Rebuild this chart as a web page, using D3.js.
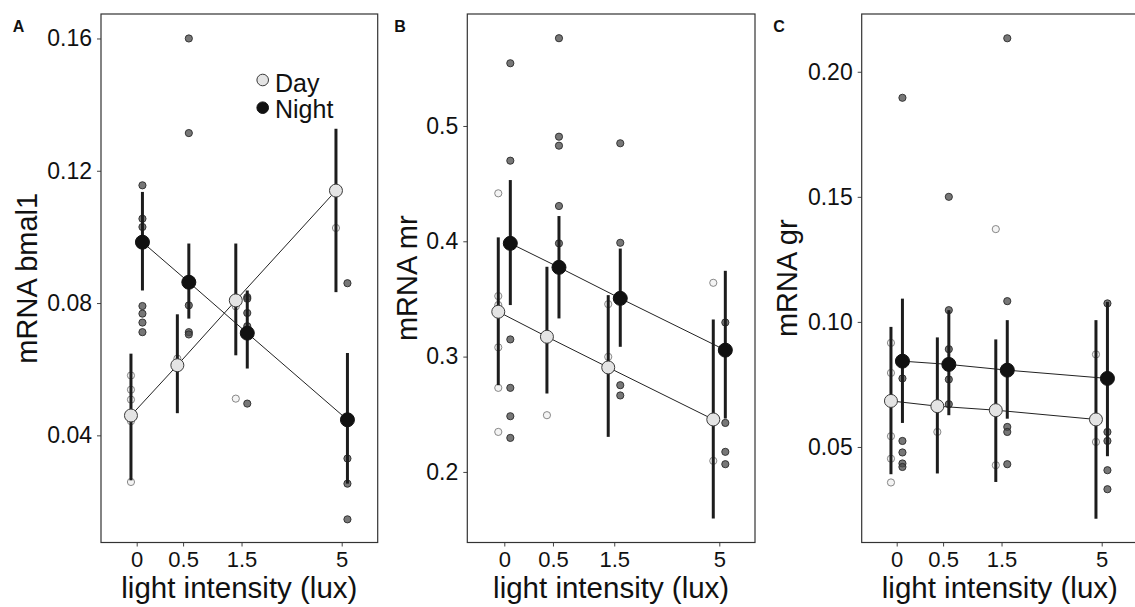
<!DOCTYPE html>
<html>
<head>
<meta charset="utf-8">
<script src="https://cdn.jsdelivr.net/npm/d3@7/dist/d3.min.js"></script>
<style>
  html, body { margin: 0; padding: 0; background: #fff; }
  svg { display: block; font-family: "Liberation Sans", Arial, sans-serif; }
</style>
</head>
<body>
<svg id="chart" width="1135" height="607"></svg>
<script>
// ---------- data ----------
const lux = [0, 0.5, 1.5, 5];
const xTickLabels = ["0", "0.5", "1.5", "5"];
const seriesNames = ["Day", "Night"];

// Panel A: bmal1
const bmal1YTicks = [0.04, 0.08, 0.12, 0.16];
const bmal1YTickLabels = ["0.04", "0.08", "0.12", "0.16"];
const bmal1DayMean = [0.046, 0.0612, 0.0808, 0.114];
const bmal1DayLow = [0.0264, 0.0467, 0.0642, 0.0833];
const bmal1DayHigh = [0.0647, 0.0766, 0.098, 0.1327];
const bmal1NightMean = [0.0984, 0.0863, 0.0709, 0.0447];
const bmal1NightLow = [0.0838, 0.0753, 0.0602, 0.0254];
const bmal1NightHigh = [0.1136, 0.098, 0.0838, 0.0649];
const bmal1DayRaw = [[0.0581, 0.0538, 0.0508, 0.0443, 0.0259], [0.0632], [0.0511, 0.079], [0.1027]];
const bmal1NightRaw = [[0.1156, 0.1055, 0.103, 0.0791, 0.0768, 0.0741, 0.0712],
                       [0.16, 0.1314, 0.0793, 0.0712, 0.0705],
                       [0.0818, 0.0813, 0.077, 0.073, 0.0496],
                       [0.086, 0.033, 0.0254, 0.0146]];

// Panel B: mr
const mrYTicks = [0.2, 0.3, 0.4, 0.5];
const mrYTickLabels = ["0.2", "0.3", "0.4", "0.5"];
const mrDayMean = [0.3389, 0.3172, 0.2906, 0.2455];
const mrDayLow = [0.2752, 0.268, 0.2304, 0.1596];
const mrDayHigh = [0.4034, 0.3779, 0.3533, 0.3322];
const mrNightMean = [0.3982, 0.3774, 0.3505, 0.3056];
const mrNightLow = [0.3447, 0.3331, 0.3085, 0.2463];
const mrNightHigh = [0.4531, 0.4219, 0.3937, 0.3744];
const mrDayRaw = [[0.4416, 0.3525, 0.3447, 0.308, 0.2729, 0.2347], [0.2492], [0.3455, 0.2998], [0.364, 0.2096]];
const mrNightRaw = [[0.5544, 0.4699, 0.3149, 0.2729, 0.2483, 0.2295],
                    [0.5761, 0.4907, 0.4829, 0.4306, 0.3982],
                    [0.485, 0.3987, 0.2752, 0.2663],
                    [0.3296, 0.2425, 0.2174, 0.2067]];

// Panel C: gr
const grYTicks = [0.05, 0.10, 0.15, 0.20];
const grYTickLabels = ["0.05", "0.10", "0.15", "0.20"];
const grDayMean = [0.0684, 0.0663, 0.0647, 0.061];
const grDayLow = [0.0391, 0.0394, 0.036, 0.0213];
const grDayHigh = [0.098, 0.0938, 0.093, 0.1007];
const grNightMean = [0.0843, 0.083, 0.0807, 0.0774];
const grNightLow = [0.0596, 0.0627, 0.0613, 0.0463];
const grNightHigh = [0.1093, 0.1047, 0.1007, 0.108];
const grDayRaw = [[0.0916, 0.0796, 0.0543, 0.0453, 0.0358], [0.056], [0.1371, 0.0427], [0.087, 0.052]];
const grNightRaw = [[0.1896, 0.0774, 0.0524, 0.0478, 0.0434, 0.042],
                    [0.15, 0.1047, 0.0891, 0.077, 0.0671],
                    [0.2134, 0.1083, 0.058, 0.056, 0.0431],
                    [0.1074, 0.056, 0.0524, 0.0407, 0.0331]];

const panelLetters = ["A", "B", "C"];
const yTitles = ["mRNA bmal1", "mRNA mr", "mRNA gr"];
const xTitle = "light intensity (lux)";

// ---------- layout ----------
const plotTop = 14, plotBottom = 542.5;
const panels = [
  { letter: panelLetters[0], title: yTitles[0], left: 101, right: 377.7, x0: 136.7, x5: 341.7,
    yDomain: [0.0076, 0.1674], ticks: bmal1YTicks, tickLabels: bmal1YTickLabels,
    letterX: 12.7, titleX: 37, legend: true,
    series: [
      { mean: bmal1DayMean, lo: bmal1DayLow, hi: bmal1DayHigh, raw: bmal1DayRaw },
      { mean: bmal1NightMean, lo: bmal1NightLow, hi: bmal1NightHigh, raw: bmal1NightRaw } ] },
  { letter: panelLetters[1], title: yTitles[1], left: 467.3, right: 755, x0: 504.3, x5: 719.3,
    yDomain: [0.1388, 0.5971], ticks: mrYTicks, tickLabels: mrYTickLabels,
    letterX: 394.3, titleX: 417, legend: false,
    series: [
      { mean: mrDayMean, lo: mrDayLow, hi: mrDayHigh, raw: mrDayRaw },
      { mean: mrNightMean, lo: mrNightLow, hi: mrNightHigh, raw: mrNightRaw } ] },
  { letter: panelLetters[2], title: yTitles[2], left: 861.7, right: 1138, x0: 896.7, x5: 1101.7,
    yDomain: [0.0118, 0.2231], ticks: grYTicks, tickLabels: grYTickLabels,
    letterX: 773.3, titleX: 797, legend: false,
    series: [
      { mean: grDayMean, lo: grDayLow, hi: grDayHigh, raw: grDayRaw },
      { mean: grNightMean, lo: grNightLow, hi: grNightHigh, raw: grNightRaw } ] }
];

const styles = [
  { rawFill: "#f4f4f4", rawStroke: "#7a7a7a", rawOpacity: 1, meanFill: "#e4e4e4", meanStroke: "#3a3a3a", meanR: 6.5 },
  { rawFill: "#4a4a4a", rawStroke: "#2a2a2a", rawOpacity: 0.75, meanFill: "#111111", meanStroke: "#111111", meanR: 7 }
];

const svg = d3.select("#chart");

panels.forEach(p => {
  const x = d3.scaleSymlog().constant(1).domain([0, 5]).range([p.x0, p.x5]);
  const y = d3.scaleLinear().domain(p.yDomain).range([plotBottom, plotTop]);
  const dodge = 0.028 * (p.x5 - p.x0);
  const g = svg.append("g");

  // axes
  const xAxis = d3.axisBottom(x).tickValues(lux).tickFormat((d, i) => xTickLabels[i])
    .tickSize(4).tickPadding(5);
  const gx = g.append("g").attr("transform", `translate(0,${plotBottom})`).call(xAxis);
  gx.select(".domain").remove();
  gx.selectAll("line").attr("stroke", "#444");
  gx.selectAll("text").attr("font-size", 22).attr("fill", "#111")
    .attr("font-family", "'Liberation Sans', Arial, sans-serif");

  const yAxis = d3.axisLeft(y).tickValues(p.ticks).tickFormat((d, i) => p.tickLabels[i])
    .tickSize(4).tickPadding(5);
  const gy = g.append("g").attr("transform", `translate(${p.left},0)`).call(yAxis);
  gy.select(".domain").remove();
  gy.selectAll("line").attr("stroke", "#444");
  gy.selectAll("text").attr("font-size", 23).attr("fill", "#111")
    .attr("font-family", "'Liberation Sans', Arial, sans-serif");

  // box
  g.append("rect").attr("x", p.left).attr("y", plotTop)
    .attr("width", p.right - p.left).attr("height", plotBottom - plotTop)
    .attr("fill", "none").attr("stroke", "#333").attr("stroke-width", 1.2);

  // raw points
  p.series.forEach((s, si) => {
    const st = styles[si];
    const off = si === 0 ? -dodge : dodge;
    const pts = [];
    s.raw.forEach((vals, li) => vals.forEach(v => pts.push({ lx: lux[li], v })));
    g.append("g").selectAll("circle").data(pts).join("circle")
      .attr("cx", d => x(d.lx) + off).attr("cy", d => y(d.v)).attr("r", 3.6)
      .attr("fill", st.rawFill).attr("fill-opacity", st.rawOpacity)
      .attr("stroke", st.rawStroke).attr("stroke-width", 0.9);
  });

  // connecting lines
  p.series.forEach((s, si) => {
    const off = si === 0 ? -dodge : dodge;
    const line = d3.line().x((d, i) => x(lux[i]) + off).y(d => y(d));
    g.append("path").attr("d", line(s.mean)).attr("fill", "none")
      .attr("stroke", "#222").attr("stroke-width", 1);
  });

  // error bars
  p.series.forEach((s, si) => {
    const off = si === 0 ? -dodge : dodge;
    g.append("g").selectAll("line").data(lux).join("line")
      .attr("x1", (d) => x(d) + off).attr("x2", (d) => x(d) + off)
      .attr("y1", (d, i) => y(s.lo[i])).attr("y2", (d, i) => y(s.hi[i]))
      .attr("stroke", "#1c1c1c").attr("stroke-width", 3);
  });

  // means
  p.series.forEach((s, si) => {
    const st = styles[si];
    const off = si === 0 ? -dodge : dodge;
    g.append("g").selectAll("circle").data(s.mean).join("circle")
      .attr("cx", (d, i) => x(lux[i]) + off).attr("cy", d => y(d)).attr("r", st.meanR)
      .attr("fill", st.meanFill).attr("stroke", st.meanStroke).attr("stroke-width", 1);
  });

  // panel letter
  svg.append("text").attr("x", p.letterX).attr("y", 31.7).text(p.letter)
    .attr("font-size", 16).attr("font-weight", "bold").attr("fill", "#111");

  // y title
  svg.append("text").attr("transform", `translate(${p.titleX},${(plotTop + plotBottom) / 2}) rotate(-90)`)
    .attr("text-anchor", "middle").attr("font-size", 29).attr("fill", "#111").text(p.title);

  // x title
  svg.append("text").attr("x", (p.left + p.right) / 2).attr("y", 598)
    .attr("text-anchor", "middle").attr("font-size", 29.5).attr("fill", "#111").text(xTitle);

  // legend
  if (p.legend) {
    const lg = svg.append("g");
    const rows = [{ name: seriesNames[0], cy: 80, by: 91.5 }, { name: seriesNames[1], cy: 107.7, by: 118.3 }];
    rows.forEach((r, i) => {
      lg.append("circle").attr("cx", 262.7).attr("cy", r.cy).attr("r", 5.8)
        .attr("fill", styles[i].meanFill).attr("stroke", styles[i].meanStroke).attr("stroke-width", 1);
      lg.append("text").attr("x", 275).attr("y", r.by).attr("font-size", 25)
        .attr("fill", "#111").text(r.name);
    });
  }
});
</script>
</body>
</html>
